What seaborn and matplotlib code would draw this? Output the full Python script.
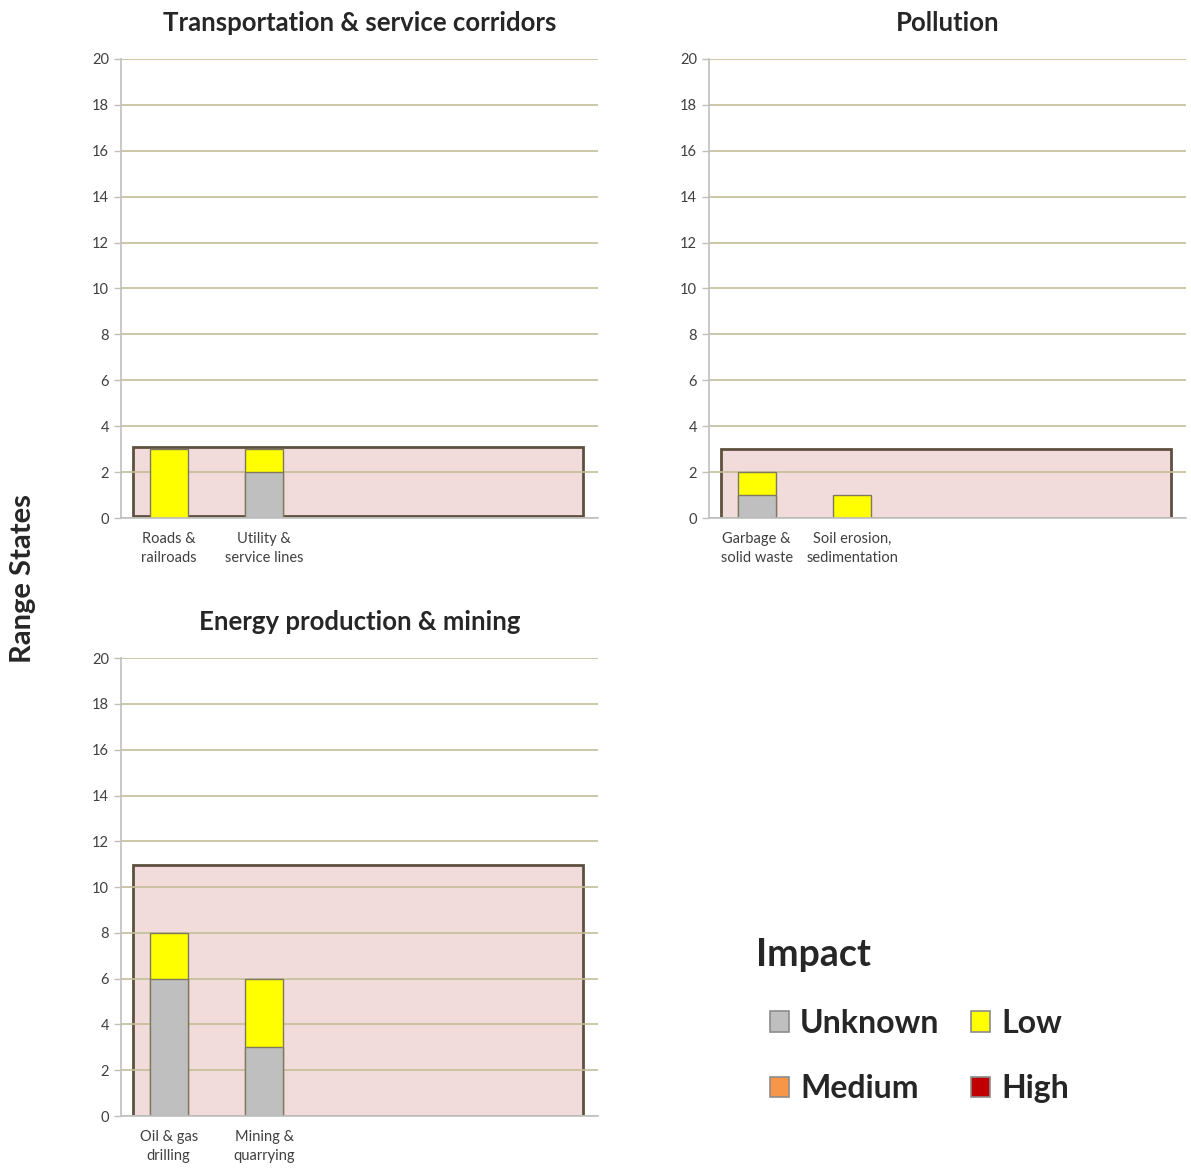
import matplotlib
matplotlib.use("Agg")
import matplotlib.pyplot as plt
from matplotlib.patches import Patch, Rectangle
import seaborn as sns

# ──────────────────────────────────────────────────────────────────────────────
# Data
# ──────────────────────────────────────────────────────────────────────────────

transport_cats = ["Roads &\nrailroads", "Utility &\nservice lines"]
transport_unknown = [0, 2]
transport_low = [3, 1]

pollution_cats = ["Garbage &\nsolid waste", "Soil erosion,\nsedimentation"]
pollution_unknown = [1, 0]
pollution_low = [1, 1]

energy_cats = ["Oil & gas\ndrilling", "Mining &\nquarrying"]
energy_unknown = [6, 3]
energy_low = [2, 3]

# shaded "range states" box behind the bars (y0, y1)
transport_box = [0.1, 3.1]
pollution_box = [0.0, 3.0]
energy_box = [0.0, 10.95]

impact_levels = ["Unknown", "Low", "Medium", "High"]
impact_colors = ["#BFBFBF", "#FFFF00", "#F79646", "#C00000"]

N_SLOTS = 5
Y_MAX = 20

sns.set_theme(style="white")
plt.rcParams["font.family"] = ["Lato", "DejaVu Sans"]

GRID = "#C4BD97"
SPINE = "#BFBFBF"
BAR_EDGE = "#7F7A5F"


def draw_panel(ax, title, cats, unknown, low, box):
    totals = [u + l for u, l in zip(unknown, low)]

    ax.set_xlim(-0.5, N_SLOTS - 0.5)
    ax.set_ylim(0, Y_MAX)

    # background box
    ax.add_patch(Rectangle((-0.375, box[0]), 4.72, box[1] - box[0],
                           facecolor="#F2DCDB", edgecolor="#5E5040",
                           linewidth=2, zorder=1))

    ax.set_yticks(range(0, Y_MAX + 1, 2))
    ax.yaxis.grid(True, color=GRID, linewidth=1.2, zorder=2)
    ax.set_axisbelow(False)
    for line in ax.get_ygridlines():
        line.set_zorder(2)

    sns.barplot(x=cats, y=totals, color=impact_colors[1], width=0.4,
                edgecolor=BAR_EDGE, linewidth=1, saturation=1, ax=ax, zorder=3)
    sns.barplot(x=cats, y=unknown, color=impact_colors[0], width=0.4,
                edgecolor=BAR_EDGE, linewidth=1, saturation=1, ax=ax, zorder=4)
    ax.set_xlim(-0.5, N_SLOTS - 0.5)

    ax.set_xticks(range(len(cats)))
    ax.set_xticklabels(cats, fontsize=10.5, color="#404040", linespacing=1.5)
    ax.set_xticks([i - 0.5 for i in range(N_SLOTS + 1)], minor=True)
    ax.tick_params(axis="x", which="major", length=0, pad=10)
    ax.tick_params(axis="x", which="minor", length=5, color=SPINE, width=1)
    ax.tick_params(axis="y", length=5, color=SPINE, width=1,
                   labelsize=10.5, labelcolor="#404040", left=True)

    for side in ["top", "right"]:
        ax.spines[side].set_visible(False)
    for side in ["left", "bottom"]:
        ax.spines[side].set_color(SPINE)
        ax.spines[side].set_linewidth(1.2)
        ax.spines[side].set_zorder(5)

    ax.set_xlabel("")
    ax.set_ylabel("")
    ax.set_title(title, fontsize=18.5, fontweight="bold", pad=20)


fig = plt.figure(figsize=(11.91, 11.68), dpi=100)
ax1 = fig.add_axes([0.1016, 0.5565, 0.4005, 0.393])
ax2 = fig.add_axes([0.5953, 0.5565, 0.4005, 0.393])
ax3 = fig.add_axes([0.1016, 0.0445, 0.4005, 0.392])

draw_panel(ax1, "Transportation & service corridors",
           transport_cats, transport_unknown, transport_low, transport_box)
draw_panel(ax2, "Pollution",
           pollution_cats, pollution_unknown, pollution_low, pollution_box)
draw_panel(ax3, "Energy production & mining",
           energy_cats, energy_unknown, energy_low, energy_box)

fig.text(0.019, 0.505, "Range States", rotation=90, fontsize=21,
         fontweight="bold", ha="center", va="center")

# legend
fig.text(0.635, 0.182, "Impact", fontsize=27, fontweight="bold",
         ha="left", va="center")
handles = [Patch(facecolor=c, edgecolor="#8C8C8C", linewidth=1.2, label=l)
           for c, l in zip(impact_colors, impact_levels)]
# reorder so rows read Unknown/Low, Medium/High with ncol=2
order = [0, 2, 1, 3]
leg = fig.legend([handles[i] for i in order], [impact_levels[i] for i in order],
                 ncol=2, loc="upper left",
                 bbox_to_anchor=(0.622, 0.161), frameon=False,
                 prop={"size": 23, "weight": "bold"},
                 handlelength=0.6, handleheight=0.6, handletextpad=0.35,
                 labelspacing=1.15, columnspacing=1.0)

fig.savefig("out.png", dpi=100)
